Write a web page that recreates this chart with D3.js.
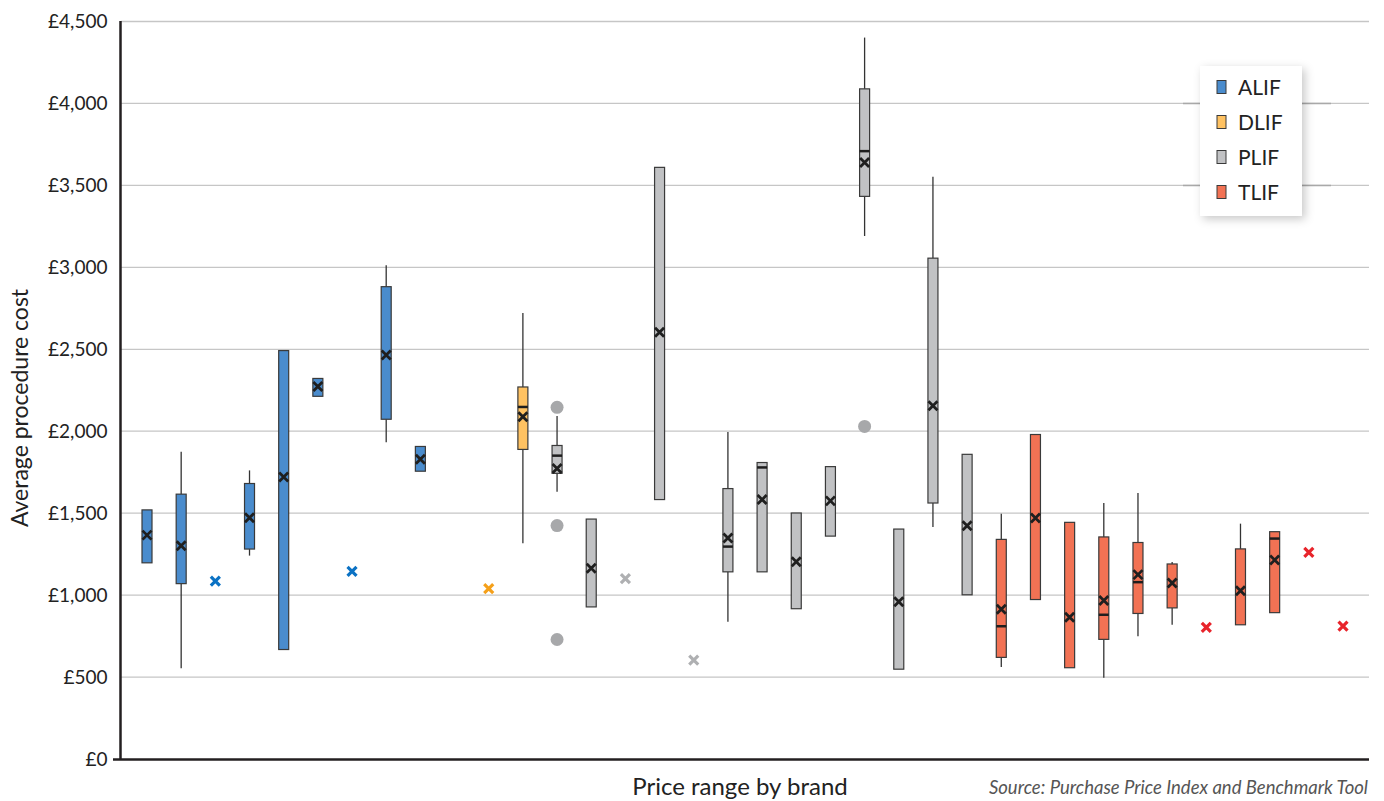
<!DOCTYPE html>
<html>
<head>
<meta charset="utf-8">
<script src="https://cdn.jsdelivr.net/npm/d3@7"></script>
<style>
  html, body { margin: 0; padding: 0; background: #fff; }
  svg { display: block; font-family: Lato, "Open Sans", sans-serif; }
</style>
</head>
<body>
<svg id="chart" width="1384" height="801"></svg>
<script>
// ---- Data ----
const brands = ["A1","A2","A3","A4","A5","A6","A7","A8","A9","",
  "D1","D2",
  "P1","P2","P3","P4","P5","P6","P7","P8","P9","P10","P11","P12","P13",
  "T1","T2","T3","T4","T5","T6","T7","T8","T9","T10","T11"];
const types = ["ALIF","ALIF","ALIF","ALIF","ALIF","ALIF","ALIF","ALIF","ALIF",null,
  "DLIF","DLIF",
  "PLIF","PLIF","PLIF","PLIF","PLIF","PLIF","PLIF","PLIF","PLIF","PLIF","PLIF","PLIF","PLIF",
  "TLIF","TLIF","TLIF","TLIF","TLIF","TLIF","TLIF","TLIF","TLIF","TLIF","TLIF"];
const whiskerLow  = [null,554,null,1241,null,null,null,1933,null,null,
  null,1316,
  1630,null,null,null,null,837,null,null,null,3191,null,1416,null,
  561,null,null,496,749,819,null,null,null,null,null];
const q1 = [1197,1070,null,1281,668,2213,null,2073,1756,null,
  null,1889,
  1743,928,null,1583,null,1142,1142,917,1360,3433,548,1562,1002,
  620,973,557,730,888,922,null,819,893,null,null];
const median = [null,null,null,null,null,null,null,null,null,null,
  null,2148,
  1851,null,null,null,null,1296,1779,null,null,3709,null,null,null,
  810,null,null,880,1079,null,null,null,1345,null,null];
const q3 = [1520,1616,null,1681,2492,2322,null,2882,1907,null,
  null,2270,
  1913,1464,null,3610,null,1650,1809,1501,1784,4089,1403,3056,1859,
  1340,1980,1444,1355,1321,1190,null,1282,1387,null,null];
const whiskerHigh = [null,1875,null,1761,null,null,null,3012,null,null,
  null,2721,
  2093,null,null,null,null,1995,null,null,null,4402,null,3552,null,
  1496,null,null,1562,1623,1202,null,1436,null,null,null];
const means = [1366,1301,1086,1472,1720,2273,1145,2465,1829,null,
  1039,2088,
  1772,1164,1101,2604,604,1348,1583,1203,1575,3640,959,2156,1423,
  914,1471,865,967,1125,1074,803,1027,1214,1261,811];
const outliers = [[],[],[],[],[],[],[],[],[],[],
  [],[],
  [2146,1424,729],[],[],[],[],[],[],[],[],[2029],[],[],[],
  [],[],[],[],[],[],[],[],[],[],[]];
const yTicks = [0,500,1000,1500,2000,2500,3000,3500,4000,4500];
const legendItems = ["ALIF","DLIF","PLIF","TLIF"];

// ---- Styles ----
const boxFill  = {ALIF:"#4a8ccd", DLIF:"#ffc262", PLIF:"#c1c2c4", TLIF:"#f27254"};
const pointCol = {ALIF:"#0b72c4", DLIF:"#f5a01a", PLIF:"#afb0b2", TLIF:"#e8242b"};

const rows = brands.map((b,i)=>({brand:b, type:types[i], wl:whiskerLow[i], q1:q1[i],
  med:median[i], q3:q3[i], wh:whiskerHigh[i], mean:means[i], out:outliers[i]}))
  .filter(d=>d.type);

const svg = d3.select("#chart");
const x = d3.scalePoint().domain(brands).range([147,1343]);
const y = d3.scaleLinear().domain([0,4500]).range([759,21.5]);

const defs = svg.append("defs");
const f = defs.append("filter").attr("id","shadow").attr("x","-30%").attr("y","-20%").attr("width","160%").attr("height","140%");
f.append("feDropShadow").attr("dx",3).attr("dy",3).attr("stdDeviation",5).attr("flood-color","#000").attr("flood-opacity",0.22);

// gridlines
svg.append("g").selectAll("line").data(yTicks.filter(t=>t>0)).join("line")
  .attr("x1",121).attr("x2",1369).attr("y1",d=>y(d)).attr("y2",d=>y(d))
  .attr("stroke","#c6c6c6").attr("stroke-width",1.3);

// darker segments behind legend
svg.append("g").selectAll("line").data([4000,3500]).join("line")
  .attr("x1",1183).attr("x2",1331).attr("y1",d=>y(d)).attr("y2",d=>y(d))
  .attr("stroke","#a9a9a9").attr("stroke-width",1.5);

// y axis
const yAxis = d3.axisLeft(y).tickValues(yTicks).tickSize(0).tickPadding(13)
  .tickFormat(d=>"£"+d3.format(",")(d));
const ga = svg.append("g").attr("transform","translate(120.5,0)").call(yAxis);
ga.select(".domain").remove();
ga.selectAll("text").attr("font-family","Lato, sans-serif").attr("font-size",19).attr("fill","#222");
svg.append("line").attr("x1",120.5).attr("x2",120.5).attr("y1",21).attr("y2",760)
  .attr("stroke","#231f20").attr("stroke-width",2.5);
svg.append("line").attr("x1",113).attr("x2",1369).attr("y1",759.5).attr("y2",759.5)
  .attr("stroke","#231f20").attr("stroke-width",2.5);

// boxes
const gb = svg.append("g");
const bw = 10;
const boxes = rows.filter(d=>d.q1!=null);
boxes.forEach(d=>{
  const cx = x(d.brand);
  const g = gb.append("g");
  if (d.wh!=null) g.append("line").attr("x1",cx).attr("x2",cx).attr("y1",y(d.wh)).attr("y2",y(d.q3)).attr("stroke","#333").attr("stroke-width",1.3);
  if (d.wl!=null) g.append("line").attr("x1",cx).attr("x2",cx).attr("y1",y(d.q1)).attr("y2",y(d.wl)).attr("stroke","#333").attr("stroke-width",1.3);
  g.append("rect").attr("x",cx-bw/2).attr("y",y(d.q3)).attr("width",bw).attr("height",y(d.q1)-y(d.q3))
    .attr("fill",boxFill[d.type]).attr("stroke","#3a3a3a").attr("stroke-width",1.2);
  if (d.med!=null) g.append("line").attr("x1",cx-bw/2).attr("x2",cx+bw/2).attr("y1",y(d.med)).attr("y2",y(d.med))
    .attr("stroke","#1e1e1e").attr("stroke-width",2.5);
  d.out.forEach(o=>{
    g.append("circle").attr("cx",cx).attr("cy",y(o)).attr("r",6.5).attr("fill","#a7a8aa");
  });
});

// x marker helper
function cross(g, cx, cy, s, col, w){
  g.append("path").attr("d",`M${cx-s},${cy-s}L${cx+s},${cy+s}M${cx-s},${cy+s}L${cx+s},${cy-s}`)
    .attr("stroke",col).attr("stroke-width",w).attr("fill","none");
}
const gm = svg.append("g");
boxes.forEach(d=>cross(gm, x(d.brand), y(d.mean), 4.5, "#1f1f1f", 2.8));
rows.filter(d=>d.q1==null).forEach(d=>cross(gm, x(d.brand), y(d.mean), 4.5, pointCol[d.type], 3.2));

// legend
const lg = svg.append("g");
lg.append("rect").attr("x",1200).attr("y",66).attr("width",102).attr("height",150).attr("fill","#fff").attr("filter","url(#shadow)");
legendItems.forEach((t,i)=>{
  const cy = 87 + i*35;
  lg.append("rect").attr("x",1217).attr("y",cy-6.5).attr("width",9).attr("height",13)
    .attr("fill",boxFill[t]).attr("stroke","#3a3a3a").attr("stroke-width",1);
  lg.append("text").attr("x",1238).attr("y",cy).attr("dy","0.36em").attr("font-size",21).attr("fill","#222").text(t);
});

// titles
svg.append("text").attr("transform","translate(28,408) rotate(-90)").attr("text-anchor","middle")
  .attr("font-size",23).attr("fill","#222").text("Average procedure cost");
svg.append("text").attr("x",740).attr("y",795).attr("text-anchor","middle")
  .attr("font-size",24).attr("fill","#222").text("Price range by brand");
svg.append("text").attr("x",1368).attr("y",794).attr("text-anchor","end").attr("font-style","italic")
  .attr("font-size",18.5).attr("fill","#555").text("Source: Purchase Price Index and Benchmark Tool");
</script>
</body>
</html>
